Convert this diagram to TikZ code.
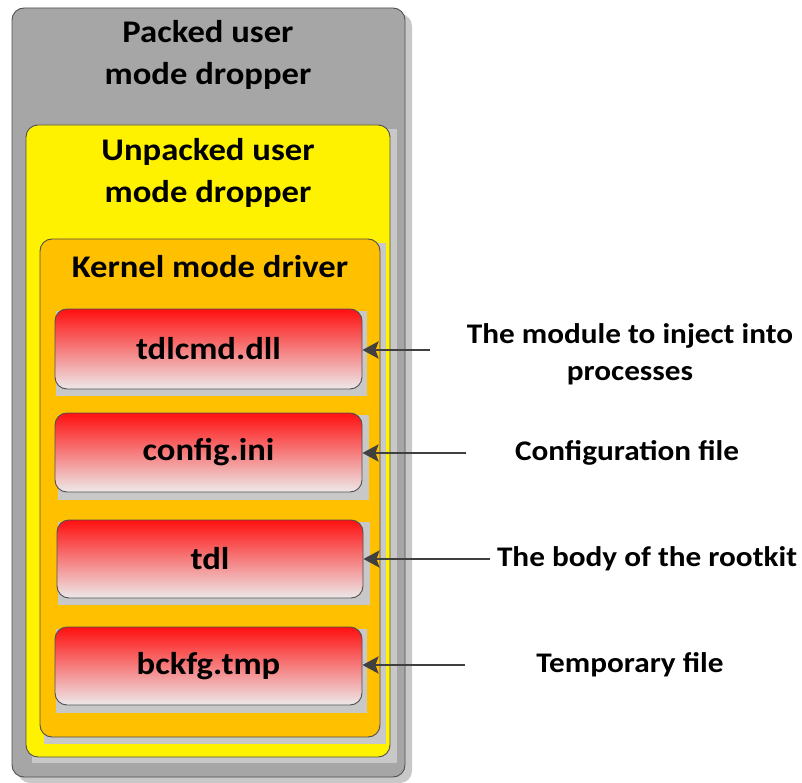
\documentclass[tikz,border=0pt]{standalone}
\usepackage{fontspec}
\setmainfont{Carlito}
\newfontfamily\widebold[FakeStretch=1.1]{Carlito Bold}
\usetikzlibrary{arrows.meta}
\definecolor{shadowgray}{HTML}{C8C8C8}
\definecolor{outergray}{HTML}{A6A6A6}
\definecolor{edgegray}{HTML}{505050}
\definecolor{kernelorange}{HTML}{FFC000}
\definecolor{filetop}{HTML}{FF1010}
\definecolor{filebottom}{HTML}{EDE9EA}
\definecolor{arrowgray}{HTML}{404040}
\tikzset{
  x=1pt, y=-1pt,
  layer/.style={draw=edgegray, line width=0.9pt, rounded corners=12pt},
  backshadow/.style={fill=shadowgray, draw=none},
  filebox/.style={draw=edgegray, line width=0.9pt, rounded corners=12pt,
    top color=filetop, bottom color=filebottom, middle color=filetop!50!filebottom},
  filename/.style={font=\widebold\fontsize{31.5}{36}\selectfont, text=black},
  titletext/.style={font=\widebold\fontsize{31.5}{42}\selectfont, align=center, text=black},
  notetext/.style={font=\widebold\fontsize{28.4}{37}\selectfont, align=center, text=black},
  pointer/.style={draw=arrowgray, line width=2.8pt,
    -{Stealth[length=16pt,width=17pt,inset=3pt]}},
}
\begin{document}
\begin{tikzpicture}
\useasboundingbox (0,0) rectangle (802,783);

% outer layer: packed dropper
\fill[shadowgray, rounded corners=12pt] (18,14) rectangle (412,783);
\draw[layer, fill=outergray] (12,8) rectangle (405,777);
\node[titletext] (packed) at (208,55) {Packed user\\mode dropper};

% unpacked dropper
\fill[backshadow] (32,129) rectangle (397,763);
\draw[layer, fill=yellow] (26,125) rectangle (390,757);
\node[titletext] (unpacked) at (208,173) {Unpacked user\\mode dropper};

% kernel mode driver
\fill[backshadow] (44,243) rectangle (386,744);
\draw[layer, fill=kernelorange] (40,239) rectangle (380,737);
\node[titletext] (kernel) at (210,267) {Kernel mode driver};

% files carried by the driver
\fill[backshadow] (56,311) rectangle (367,396);
\node[filebox, minimum width=307pt, minimum height=80pt] (dll) at (208.5,349) {};
\node[filename] at (dll.center) {tdlcmd.dll};

\fill[backshadow] (58,415) rectangle (369,500);
\node[filebox, minimum width=307pt, minimum height=79pt] (ini) at (208.5,452.5) {};
\node[filename] at (ini.center) {config.ini};

\fill[backshadow] (58,522) rectangle (370,605);
\node[filebox, minimum width=306pt, minimum height=78pt] (tdl) at (210,559) {};
\node[filename] at (tdl.center) {tdl};

\fill[backshadow] (56,629) rectangle (367,713);
\node[filebox, minimum width=307pt, minimum height=78pt] (tmp) at (208.5,666) {};
\node[filename] at (tmp.center) {bckfg.tmp};

% descriptions
\node[notetext] (ndll) at (630,354) {The module to inject into\\processes};
\node[notetext] (nini) at (627,453) {Configuration file};
\node[notetext] (ntdl) at (647,559) {The body of the rootkit};
\node[notetext] (ntmp) at (630,665) {Temporary file};

\coordinate (sdll) at (430,350);
\coordinate (sini) at (466,453);
\coordinate (stdl) at (490,559);
\coordinate (stmp) at (465,665);

\draw[pointer] (sdll) -- (dll.east |- sdll);
\draw[pointer] (sini) -- (ini.east |- sini);
\draw[pointer] (stdl) -- (tdl.east |- stdl);
\draw[pointer] (stmp) -- (tmp.east |- stmp);
\end{tikzpicture}
\end{document}
